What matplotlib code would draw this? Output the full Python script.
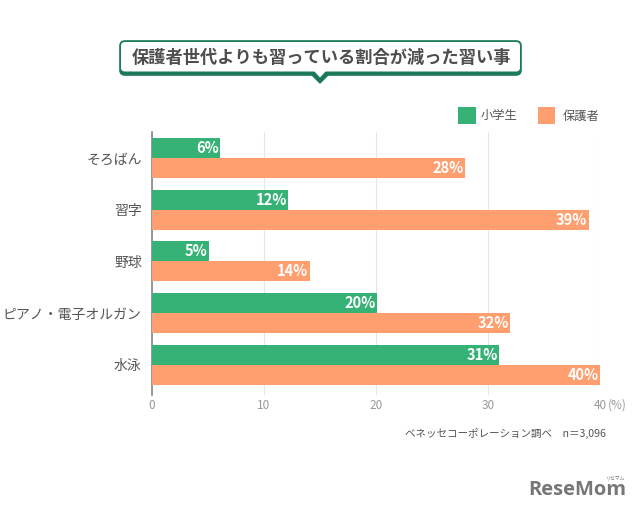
import matplotlib
matplotlib.use('Agg')
import matplotlib.pyplot as plt
import numpy as np
from matplotlib.patches import FancyBboxPatch, Polygon, Rectangle

plt.rcParams['font.family'] = ['Noto Sans CJK JP', 'DejaVu Sans']

categories = ['そろばん', '習字', '野球', 'ピアノ・電子オルガン', '水泳']
# bar lengths, labels are the printed rounded figures
students = [6.1, 12.2, 5.1, 20.1, 31.0]
parents = [28.0, 39.0, 14.1, 32.0, 40.0]
student_labels = ['6%', '12%', '5%', '20%', '31%']
parent_labels = ['28%', '39%', '14%', '32%', '40%']
xticks = [0, 10, 20, 30, 40]

GREEN = '#36b277'
ORANGE = '#ff9e6f'
DARK = '#1c7a5c'
TEXT = '#555555'
W, H = 640, 512

fig = plt.figure(figsize=(6.4, 5.12), dpi=100)

# overlay in pixel coordinates for the title box, legend and notes
bg = fig.add_axes([0, 0, 1, 1])
bg.set_xlim(0, W)
bg.set_ylim(H, 0)
bg.axis('off')

# chart area
left, right, top, bottom = 151.5, 600, 132, 395
ax = fig.add_axes([left / W, 1 - bottom / H, (right - left) / W, (bottom - top) / H])
ax.patch.set_alpha(0)

y = np.arange(len(categories))
h = 0.385
ax.barh(y - h / 2, students, height=h, color=GREEN, zorder=3)
ax.barh(y + h / 2, parents, height=h, color=ORANGE, zorder=3)

for i in y:
    ax.text(students[i] - 0.12, i - h / 2, student_labels[i], color='white', fontsize=10.5,
            fontweight='bold', ha='right', va='center', zorder=4)
    ax.text(parents[i] - 0.12, i + h / 2, parent_labels[i], color='white', fontsize=10.5,
            fontweight='bold', ha='right', va='center', zorder=4)

ax.set_xlim(0, 40)
ax.set_ylim(4.58, -0.5)
ax.set_xticks(xticks)
ax.set_xticklabels(['0', '10', '20', '30', '40'])
ax.set_yticks(y)
ax.set_yticklabels(categories)
ax.tick_params(axis='y', length=0, labelsize=10, labelcolor=TEXT, pad=7)
ax.tick_params(axis='x', length=0, labelsize=8.5, labelcolor='#999999', pad=3)
ax.grid(axis='x', color='#e6e6e6', linewidth=0.8, zorder=0)
ax.set_axisbelow(True)
for s in ['top', 'right', 'bottom']:
    ax.spines[s].set_visible(False)
ax.spines['left'].set_color('#888888')
ax.spines['left'].set_linewidth(1.2)

# title callout, dark layer first then white on top
bg.add_patch(FancyBboxPatch((120, 41), 401, 34, boxstyle='round,pad=0,rounding_size=5',
                            fc=DARK, ec=DARK, lw=1.2))
bg.add_patch(Polygon([[311, 74], [329, 74], [320, 83]], closed=True, fc=DARK, ec=DARK, lw=1))
bg.add_patch(FancyBboxPatch((121, 42), 399, 29.5, boxstyle='round,pad=0,rounding_size=4',
                            fc='white', ec='none'))
bg.add_patch(Polygon([[314, 71], [326, 71], [320, 77.5]], closed=True, fc='white', ec='none'))
bg.text(321, 57.5, '保護者世代よりも習っている割合が減った習い事', fontsize=12.4, fontweight='bold',
        color='#4d4d4d', ha='center', va='center')

# legend
bg.add_patch(Rectangle((458, 107), 18, 17, fc=GREEN, ec='none'))
bg.text(481, 116, '小学生', fontsize=8.8, color=TEXT, va='center')
bg.add_patch(Rectangle((538, 107), 17, 17, fc=ORANGE, ec='none'))
bg.text(563, 116, '保護者', fontsize=8.8, color=TEXT, va='center')

# unit and source
bg.text(608, 405.5, '(%)', fontsize=8.5, color='#999999', va='center')
bg.text(405, 433, 'ベネッセコーポレーション調べ\u3000n＝3,096', fontsize=7.6, color=TEXT, va='center')

# watermark
bg.text(626, 490, 'ReseMom', fontsize=14.5, fontweight='bold', color='#777777', ha='right', va='center',
        family=['Open Sans', 'DejaVu Sans'])
bg.text(616, 477.5, 'リセマム', fontsize=3.5, color='#777777', ha='center', va='center')

fig.savefig('out.png', dpi=100)
